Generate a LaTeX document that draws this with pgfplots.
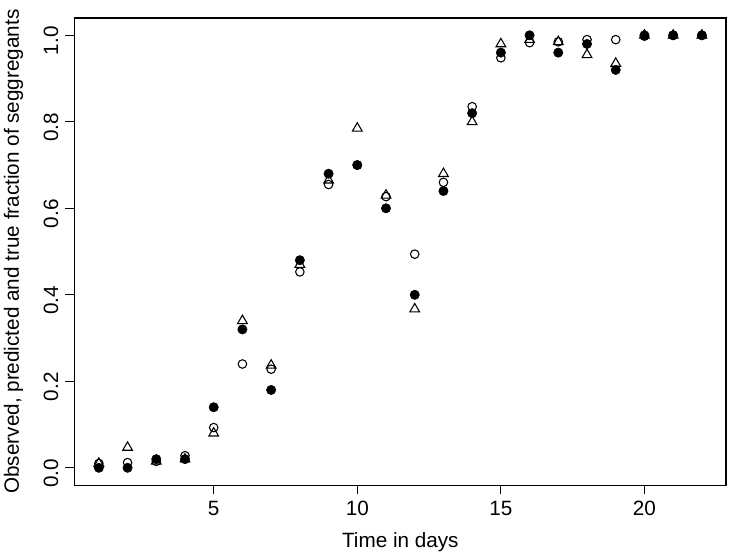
\documentclass[border=0pt]{standalone}
\usepackage{pgfplots}
\pgfplotsset{compat=1.18}
\usepackage{fontspec}
\setmainfont{Liberation Sans}
\begin{document}
\fontsize{15.5}{18}\selectfont
\begin{tikzpicture}
\begin{axis}[
  name=ax,
  scale only axis,
  width=488pt, height=350pt,
  xmin=0.16, xmax=22.84,
  ymin=-0.04, ymax=1.04,
  xtick={5,10,15,20},
  ytick={0,0.2,0.4,0.6,0.8,1.0},
  yticklabels={0.0,0.2,0.4,0.6,0.8,1.0},
  tick align=outside,
  major tick length=7pt,
  xtick pos=bottom, ytick pos=left,
  axis line style={line width=0.8pt},
  every tick/.style={black, line width=0.8pt},
  /pgf/number format/assume math mode=true,
  tick label style={font=\fontsize{15.5}{18}\selectfont},
  xticklabel style={anchor=north, yshift=0.5pt},
  yticklabel style={rotate=90, anchor=south, xshift=-4pt},
  xlabel={Time in days},
  ylabel={Observed, predicted and true fraction of seggregants},
  every axis x label/.style={at={(axis description cs:0.5,-0.123)}, anchor=center},
  every axis y label/.style={at={(axis description cs:-0.094,0.5)}, rotate=90, anchor=center},
  label style={font=\fontsize{15.5}{18}\selectfont},
  clip=false,
]
\addplot[only marks, mark=o, mark size=3.2pt, mark options={line width=0.8pt, black}] coordinates {
(1,0.01)(2,0.012)(3,0.015)(4,0.028)(5,0.093)(6,0.24)(7,0.228)(8,0.453)(9,0.655)(10,0.70)(11,0.627)
(12,0.494)(13,0.66)(14,0.835)(15,0.948)(16,0.983)(17,0.985)(18,0.99)(19,0.99)(20,0.998)(21,1.0)(22,1.0)};
\addplot[only marks, mark=*, mark size=3.5pt, mark options={black, fill=black}] coordinates {
(1,0.0)(2,0.0)(3,0.02)(4,0.02)(5,0.14)(6,0.32)(7,0.18)(8,0.48)(9,0.68)(10,0.70)(11,0.60)
(12,0.40)(13,0.64)(14,0.82)(15,0.96)(16,1.0)(17,0.96)(18,0.98)(19,0.92)(20,1.0)(21,1.0)(22,1.0)};
\addplot[only marks, mark=triangle, mark size=4.2pt, mark options={line width=0.8pt, black}] coordinates {
(1,0.01)(2,0.047)(3,0.015)(4,0.02)(5,0.08)(6,0.34)(7,0.237)(8,0.47)(9,0.665)(10,0.785)(11,0.63)
(12,0.367)(13,0.68)(14,0.80)(15,0.98)(16,0.99)(17,0.985)(18,0.955)(19,0.935)(20,1.0)(21,1.0)(22,1.0)};
\end{axis}
\pgfresetboundingbox
\path ([xshift=-56pt,yshift=-53pt]ax.south west) rectangle ([xshift=9pt,yshift=13.5pt]ax.north east);
\end{tikzpicture}
\end{document}
